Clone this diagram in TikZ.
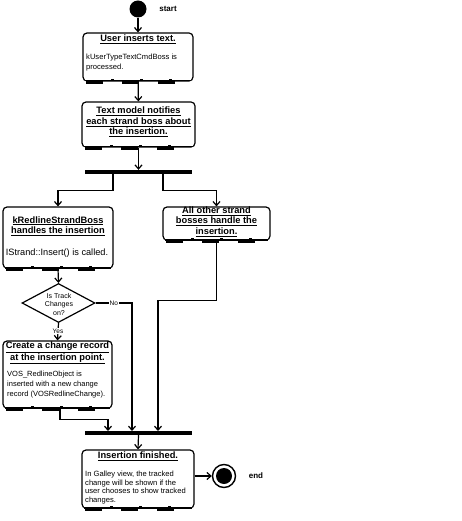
\documentclass[tikz,border=0pt]{standalone}
\usepackage{fontspec}
\setmainfont{Liberation Sans}
\usetikzlibrary{arrows.meta,shapes.geometric}
\begin{document}
\begin{tikzpicture}[x=1pt,y=-1pt,
  actbox/.style={draw, line width=1.2pt, rounded corners=4pt, inner sep=0pt},
  ttl/.style={font=\fontsize{9.3}{10.6}\selectfont\bfseries, align=center, inner sep=0pt},
  body/.style={font=\fontsize{7.6}{10.5}\selectfont, align=left, inner sep=0pt, anchor=west},
  conn/.style={line width=1.2pt, -{Straight Barb[length=4pt,width=7pt,line width=1.2pt]}},
  bar/.style={fill=black, inner sep=0pt, minimum height=4pt},
  lbl/.style={font=\fontsize{6.5}{7}\selectfont, fill=white, inner sep=1pt},
  band/.style={line width=3pt, line cap=butt, dash pattern=on 17pt off 19pt},
  bandw/.style={white, line width=0.7pt, dash pattern=on 26pt off 3pt}
]
\useasboundingbox (0,0) rectangle (462,521);

% start
\node[circle, fill=black, minimum size=17pt, inner sep=0pt] (st) at (138,9) {};
\node[font=\fontsize{8}{9}\selectfont\bfseries] (stl) at (168,9) {start};

% box 1
\node[actbox, minimum width=110pt, minimum height=48pt] (b1) at (138,57) {};
\node[ttl] (t1) at (138,39) {\underline{User inserts text.}};
\node[body] (d1) at (86,62.5) {kUserTypeTextCmdBoss is\\processed.};

% box 2
\node[actbox, minimum width=113pt, minimum height=45pt] (b2) at (138.5,124.5) {};
\node[ttl] (t2) at (138.5,122) {\underline{Text model notifies}\\\underline{each strand boss about}\\\underline{the insertion.}};

% fork
\node[bar, minimum width=107pt] (fork) at (138.5,172) {};

% box 3
\node[actbox, minimum width=110pt, minimum height=61pt] (b3) at (58,237.5) {};
\node[ttl] (t3) at (58,226) {\underline{kRedlineStrandBoss}\\\underline{handles the insertion}};
\node[font=\fontsize{9.2}{10}\selectfont, inner sep=0pt] (d3) at (57,253) {IStrand::Insert() is called.};

% box 4
\node[actbox, minimum width=107pt, minimum height=33pt] (b4) at (216.5,223.5) {};
\node[ttl] (t4) at (216.5,221.5) {\underline{All other strand}\\\underline{bosses handle the}\\\underline{insertion.}};

% decision
\node[diamond, draw, line width=1.2pt, minimum width=73pt, minimum height=39pt, inner sep=0pt] (dia) at (58.5,303) {};
\node[font=\fontsize{7}{8.5}\selectfont, align=center, inner sep=0pt] (dt) at (59,304) {Is Track\\Changes\\on?};

% box 5
\node[actbox, minimum width=109pt, minimum height=67pt] (b5) at (57.5,374.5) {};
\node[ttl] (t5) at (57.5,353) {\underline{Create a change record}\\\underline{at the insertion point.}};
\node[body, font=\fontsize{7.5}{10}\selectfont] (d5) at (7,385) {VOS\_RedlineObject is\\inserted with a new change\\record (VOSRedlineChange).};

% join
\node[bar, minimum width=107pt] (join) at (138.5,433) {};
\coordinate (j1) at (108,431);
\coordinate (j2) at (132,431);
\coordinate (j3) at (158,431);

% box 6
\node[actbox, minimum width=112pt, minimum height=58pt] (b6) at (138,479) {};
\node[ttl] (t6) at (138,456) {\underline{Insertion finished.}};
\node[body, font=\fontsize{7.6}{8.9}\selectfont] (d6) at (85,487.5) {In Galley view, the tracked\\change will be shown if the\\user chooses to show tracked\\changes.};

% end
\node[circle, draw, line width=1.4pt, minimum size=23pt, inner sep=0pt] (en) at (224,476) {};
\node[circle, fill=black, minimum size=16pt, inner sep=0pt] (eni) at (224,476) {};
\node[font=\fontsize{8}{9}\selectfont\bfseries] (enl) at (256,476) {end};

% box bottom bands
\foreach \b in {b1,b2,b3,b4,b5,b6}{
  \draw[line width=2.2pt] ([xshift=3pt,yshift=1.2pt]\b.south west) -- ([xshift=-3pt,yshift=1.2pt]\b.south east);
  \draw[bandw] ([xshift=3pt,yshift=2pt]\b.south west) -- ([xshift=-3pt,yshift=2pt]\b.south east);
  \draw[band] ([xshift=4pt,yshift=-0.8pt]\b.south west) -- ([xshift=-3pt,yshift=-0.8pt]\b.south east);
}

% connectors
\draw[conn] (st) -- (b1);
\draw[conn] (b1) -- (b2);
\draw[conn] (b2.south) -- (fork.north);
\draw[conn] ([xshift=-25.5pt]fork.south) -- ++(0,16) -| (b3.north);
\draw[conn] ([xshift=24.5pt]fork.south) -- ++(0,16) -| (b4.north);
\draw[conn] (b3.south) -- (dia.north);
\draw[conn] (dia.east) -- node[lbl]{No} (dia.east -| j2) -- (j2);
\draw[conn] (dia.south) -- node[lbl, pos=0.45]{Yes} (b5.north);
\draw[conn] ([xshift=2.5pt]b5.south) -- ++(0,11) -| (j1);
\draw[conn] (b4.south) -- ++(0,60) -| (j3);
\draw[conn] (join.south) -- (b6.north);
\draw[conn] (b6.east |- en) -- (en.west);
\end{tikzpicture}
\end{document}
